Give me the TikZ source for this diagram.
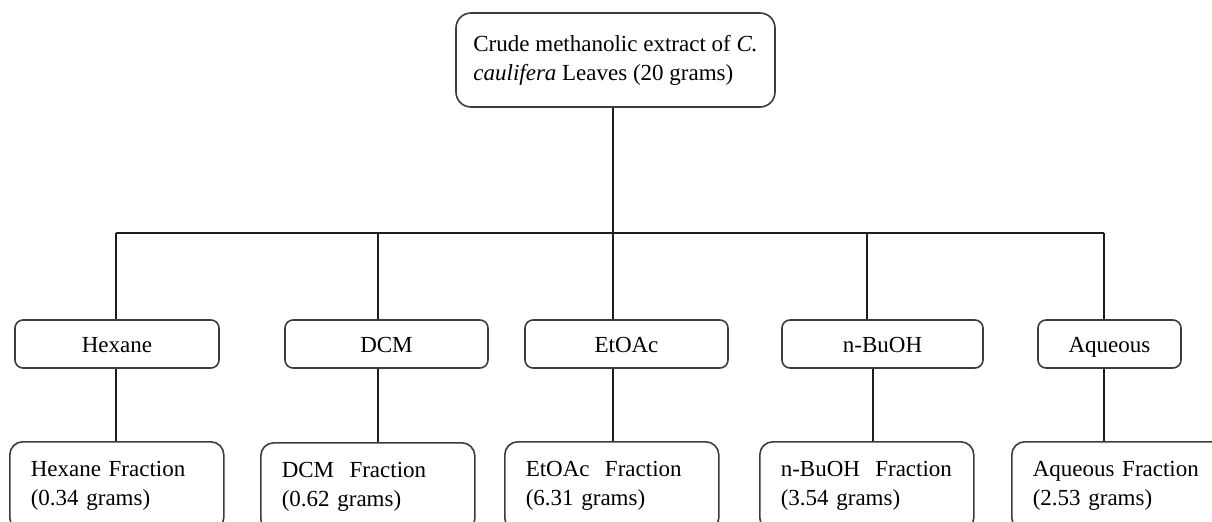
\documentclass[tikz,border=0pt]{standalone}
\usepackage{fontspec}
\setmainfont{Liberation Serif}

\begin{document}
\begin{tikzpicture}[
        x=0.5pt, y=-0.5pt,
        every node/.style={font=\fontsize{11.5}{14.5}\selectfont},
        extract/.style={draw=boxgray, line width=0.8pt, rounded corners=7.5pt, align=left, minimum width=159.5pt, minimum height=47pt},
        solvent/.style={draw=boxgray, line width=0.8pt, rounded corners=4pt, minimum height=24pt, text height=8.5pt, text depth=0pt},
        fraction/.style={draw=boxgray, line width=0.8pt, rounded corners=6.5pt, align=left, anchor=north west, text width=86pt, inner xsep=10.5pt, minimum height=44.5pt},
        edge/.style={line width=1pt, draw=linegray}
    ]

        \definecolor{boxgray}{RGB}{60, 60, 60}
        \definecolor{linegray}{RGB}{30, 30, 30}

        \useasboundingbox (0,0) rectangle (1212,521);
        \clip (0,0) rectangle (1212,521);

        % crude extract
        \node[extract] (crude) at (615.5, 60) {Crude methanolic extract of \textit{C.}\\ \textit{caulifera} Leaves (20 grams)};

        % solvents
        \node[solvent, minimum width=102pt] (hexane) at (117, 344) {Hexane};
        \node[solvent, minimum width=101.5pt] (dcm) at (386.5, 344) {DCM};
        \node[solvent, minimum width=101.5pt] (etoac) at (626.5, 344) {EtOAc};
        \node[solvent, minimum width=100.5pt] (buoh) at (882.5, 344) {n-BuOH};
        \node[solvent, minimum width=71.5pt] (aqueous) at (1109.5, 344) {Aqueous};

        % fractions
        \node[fraction] (hexanefr) at (9, 441) {Hexane Fraction\\ (0.34 grams)};
        \node[fraction] (dcmfr) at (260, 442) {DCM~ Fraction\\ (0.62 grams)};
        \node[fraction] (etoacfr) at (504, 441) {EtOAc~ Fraction\\ (6.31 grams)};
        \node[fraction] (buohfr) at (759, 441) {n-BuOH~ Fraction\\ (3.54 grams)};
        \node[fraction] (aqueousfr) at (1011, 441) {Aqueous Fraction\\ (2.53 grams)};

        \coordinate (split) at (613, 233);
        \coordinate (jhex) at (116, 233);
        \coordinate (jdcm) at (378, 233);
        \coordinate (jbu) at (867, 233);
        \coordinate (jaq) at (1104, 233);
        \coordinate (lbu) at (873, 400);

        \draw[edge] (crude.south -| split) -- (split);
        \draw[edge] (jhex) -- (jaq);

        \draw[edge] (jhex) -- (jhex |- hexane.north);
        \draw[edge] (jdcm) -- (jdcm |- dcm.north);
        \draw[edge] (split) -- (split |- etoac.north);
        \draw[edge] (jbu) -- (jbu |- buoh.north);
        \draw[edge] (jaq) -- (jaq |- aqueous.north);

        \draw[edge] (hexane.south -| jhex) -- (hexanefr.north -| jhex);
        \draw[edge] (dcm.south -| jdcm) -- (dcmfr.north -| jdcm);
        \draw[edge] (etoac.south -| split) -- (etoacfr.north -| split);
        \draw[edge] (buoh.south -| lbu) -- (buohfr.north -| lbu);
        \draw[edge] (aqueous.south -| jaq) -- (aqueousfr.north -| jaq);
    \end{tikzpicture}
\end{document}
